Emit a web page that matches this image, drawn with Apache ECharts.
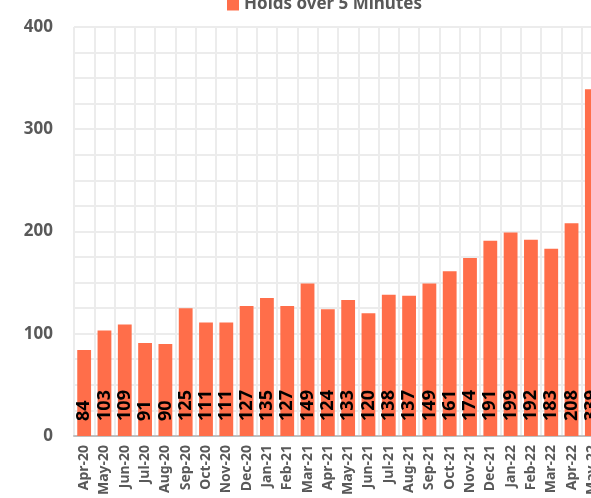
<!DOCTYPE html>
<html>
<head>
<meta charset="utf-8">
<script src="https://cdn.jsdelivr.net/npm/echarts@6/dist/echarts.min.js"></script>
<style>
  html, body { margin: 0; padding: 0; background: #fff; overflow: hidden; }
  #chart { width: 630px; height: 498px; }
</style>
</head>
<body>
<div id="chart"></div>
<script>
// months shown on the category axis
const months = [
  'Apr-20', 'May-20', 'Jun-20', 'Jul-20', 'Aug-20', 'Sep-20', 'Oct-20', 'Nov-20', 'Dec-20',
  'Jan-21', 'Feb-21', 'Mar-21', 'Apr-21', 'May-21', 'Jun-21', 'Jul-21', 'Aug-21', 'Sep-21',
  'Oct-21', 'Nov-21', 'Dec-21', 'Jan-22', 'Feb-22', 'Mar-22', 'Apr-22', 'May-22'
];
// holds over 5 minutes per month
const holds = [
  84, 103, 109, 91, 90, 125, 111, 111, 127,
  135, 127, 149, 124, 133, 120, 138, 137, 149,
  161, 174, 191, 199, 192, 183, 208, 339
];
const seriesName = 'Holds over 5 Minutes';

const chart = echarts.init(document.getElementById('chart'));
chart.setOption({
  animation: false,
  textStyle: { fontFamily: 'Noto Sans' },
  legend: {
    top: -9,
    left: 222,
    itemWidth: 12,
    itemHeight: 12,
    icon: 'rect',
    textStyle: { fontSize: 17, fontWeight: 'bold', color: '#595959' },
    data: [seriesName]
  },
  grid: { left: 74, top: 27, width: 528, bottom: 61 },
  xAxis: {
    type: 'category',
    data: months,
    axisLine: { lineStyle: { color: '#bfbfbf', width: 2 } },
    axisTick: { show: false },
    splitLine: { show: true, lineStyle: { color: '#ececec', width: 2 } },
    axisLabel: {
      rotate: 90,
      interval: 0,
      margin: 9,
      fontSize: 14,
      fontWeight: 'bold',
      color: '#595959'
    }
  },
  yAxis: {
    type: 'value',
    min: 0,
    max: 400,
    interval: 25,
    axisLine: { show: false },
    axisTick: { show: false },
    splitLine: { lineStyle: { color: '#ececec', width: 2 } },
    axisLabel: {
      margin: 21,
      fontSize: 17,
      fontWeight: 'bold',
      color: '#595959',
      formatter: v => (v % 100 === 0 ? String(v) : '')
    }
  },
  series: [{
    name: seriesName,
    type: 'bar',
    data: holds,
    barWidth: '68%',
    itemStyle: { color: '#ff6e4a' },
    label: {
      show: true,
      position: 'insideBottom',
      rotate: 90,
      align: 'left',
      verticalAlign: 'middle',
      distance: 15,
      fontSize: 18,
      fontWeight: 'bold',
      color: '#000'
    }
  }]
});
</script>
</body>
</html>
